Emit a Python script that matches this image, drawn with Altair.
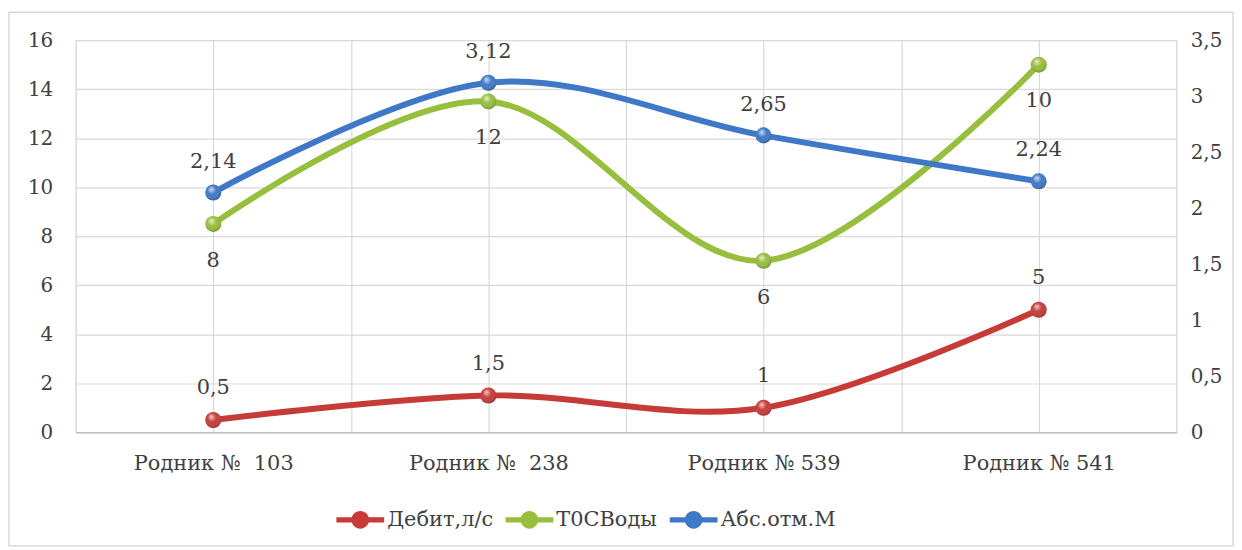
import json
import altair as alt
import pandas as pd

categories = ["Родник №  103", "Родник №  238", "Родник № 539", "Родник № 541"]
debit = [0.5, 1.5, 1, 5]          # Дебит,л/с (left axis)
temp = [8, 12, 6, 10]             # T0CВоды (left axis, stacked on Дебит)
abs_otm = [2.14, 3.12, 2.65, 2.24]  # Абс.отм.М (right axis)
series_names = ["Дебит,л/с", "T0CВоды", "Абс.отм.М"]
colors = ["#C63B38", "#97BE3C", "#3F78C6"]
left_ticks = [0, 2, 4, 6, 8, 10, 12, 14, 16]
right_ticks = [0, 0.5, 1, 1.5, 2, 2.5, 3, 3.5]

FONT = "DejaVu Serif"
TXT = "#404040"
GRID = "#d9d9d9"


def fmt(v):
    return ("%g" % v).replace(".", ",")


rows_left, rows_right = [], []
for i, c in enumerate(categories):
    rows_left.append(dict(cat=c, idx=i, series=series_names[0], value=debit[i],
                          ypos=debit[i], label=fmt(debit[i])))
    rows_left.append(dict(cat=c, idx=i, series=series_names[1], value=temp[i],
                          ypos=debit[i] + temp[i], label=fmt(temp[i])))
    rows_right.append(dict(cat=c, idx=i, series=series_names[2], value=abs_otm[i],
                           ypos=abs_otm[i], label=fmt(abs_otm[i])))
df_left = pd.DataFrame(rows_left)
df_right = pd.DataFrame(rows_right)

n = len(categories)
x_vals = [k / 2 - 0.5 for k in range(2 * n + 1)]
shown = [c.replace("  ", "\u00a0 ") for c in categories]  # keep the double space visible
label_expr = ("datum.value % 1 == 0 ? " + json.dumps(shown, ensure_ascii=False)
              + "[datum.value] : ''")

x_enc = alt.X("idx:Q",
              scale=alt.Scale(domain=[-0.5, n - 0.5], nice=False, zero=False),
              axis=alt.Axis(values=x_vals, labelExpr=label_expr, ticks=False,
                            domain=True, domainColor="#bfbfbf", domainWidth=1.5,
                            grid=True, gridColor=GRID, gridWidth=1.2,
                            labelFont=FONT, labelFontSize=21, labelColor=TXT,
                            labelPadding=20, title=None, labelFlush=False))

y_left = alt.Y("ypos:Q", scale=alt.Scale(domain=[0, 16], nice=False),
               axis=alt.Axis(values=left_ticks, grid=True, gridColor=GRID, gridWidth=1.2,
                             ticks=False, domain=False, labelPadding=23,
                             labelFont=FONT, labelFontSize=20, labelColor=TXT,
                             title=None))
y_right = alt.Y("ypos:Q", scale=alt.Scale(domain=[0, 3.5], nice=False),
                axis=alt.Axis(values=right_ticks, grid=False, ticks=False, domain=False,
                              orient="right", labelPadding=14,
                              labelExpr="replace(format(datum.value, ''), '.', ',')",
                              labelFont=FONT, labelFontSize=20, labelColor=TXT,
                              title=None))

color_scale = alt.Scale(domain=series_names, range=colors)
sym_path = ("M-1,-0.11H1V0.11H-1Z "
            "M-0.37,0A0.37,0.37 0 1,1 0.37,0A0.37,0.37 0 1,1 -0.37,0Z")
legend = alt.Legend(title=None, orient="none", legendX=262, legendY=458,
                    direction="horizontal",
                    symbolType=sym_path, symbolSize=2304, symbolStrokeWidth=0,
                    symbolOpacity=1,
                    labelFont=FONT, labelFontSize=21, labelColor=TXT,
                    labelOffset=3, columnPadding=12)

shine = {
    "gradient": "radial",
    "x1": 0.38, "y1": 0.3, "r1": 0.0,
    "x2": 0.45, "y2": 0.4, "r2": 0.65,
    "stops": [
        {"offset": 0.0, "color": "rgba(255,255,255,0.75)"},
        {"offset": 0.45, "color": "rgba(255,255,255,0.0)"},
        {"offset": 1.0, "color": "rgba(0,0,0,0.3)"},
    ],
}


def lines_for(df, y, names):
    out = []
    for s in names:
        c = colors[series_names.index(s)]
        out.append(alt.Chart(df).transform_filter(alt.datum.series == s)
                   .mark_line(interpolate="cardinal", strokeWidth=6, color=c)
                   .encode(x=x_enc, y=y))
    return out


base_l = alt.Chart(df_left)
pts_l = base_l.mark_point(size=260, opacity=1, filled=True).encode(
    x=x_enc, y=y_left, color=alt.Color("series:N", scale=color_scale, legend=legend))
shine_l = base_l.mark_point(size=260, opacity=1, filled=True, fill=shine,
                            strokeWidth=0).encode(x=x_enc, y=y_left)
txt_red = base_l.transform_filter(alt.datum.series == series_names[0]).mark_text(
    font=FONT, fontSize=21, color=TXT, dy=-32).encode(x=x_enc, y=y_left, text="label:N")
txt_green = base_l.transform_filter(alt.datum.series == series_names[1]).mark_text(
    font=FONT, fontSize=21, color=TXT, dy=37).encode(x=x_enc, y=y_left, text="label:N")
left = alt.layer(*lines_for(df_left, y_left, series_names[:2]),
                 pts_l, shine_l, txt_red, txt_green)

base_r = alt.Chart(df_right)
pts_r = base_r.mark_point(size=260, opacity=1, filled=True).encode(
    x=x_enc, y=y_right, color=alt.Color("series:N", scale=color_scale, legend=legend))
shine_r = base_r.mark_point(size=260, opacity=1, filled=True, fill=shine,
                            strokeWidth=0).encode(x=x_enc, y=y_right)
txt_blue = base_r.mark_text(font=FONT, fontSize=21, color=TXT, dy=-31).encode(
    x=x_enc, y=y_right, text="label:N")
right = alt.layer(*lines_for(df_right, y_right, series_names[2:]),
                  pts_r, shine_r, txt_blue)

frame = alt.Chart(alt.Data(values=[{}])).mark_rect(
    fillOpacity=0, stroke="#d9d9d9", strokeWidth=1.5).encode(
    x=alt.value(-67), x2=alt.value(1163), y=alt.value(-28), y2=alt.value(508))

chart = alt.layer(frame, left, right).resolve_scale(y="independent").properties(
    width=1106, height=394, padding={"left": 0, "top": 2, "right": 0, "bottom": 0}
).configure_view(stroke=None).configure(background="white")

chart.save("out.html", embed_options={"renderer": "svg", "actions": False})
